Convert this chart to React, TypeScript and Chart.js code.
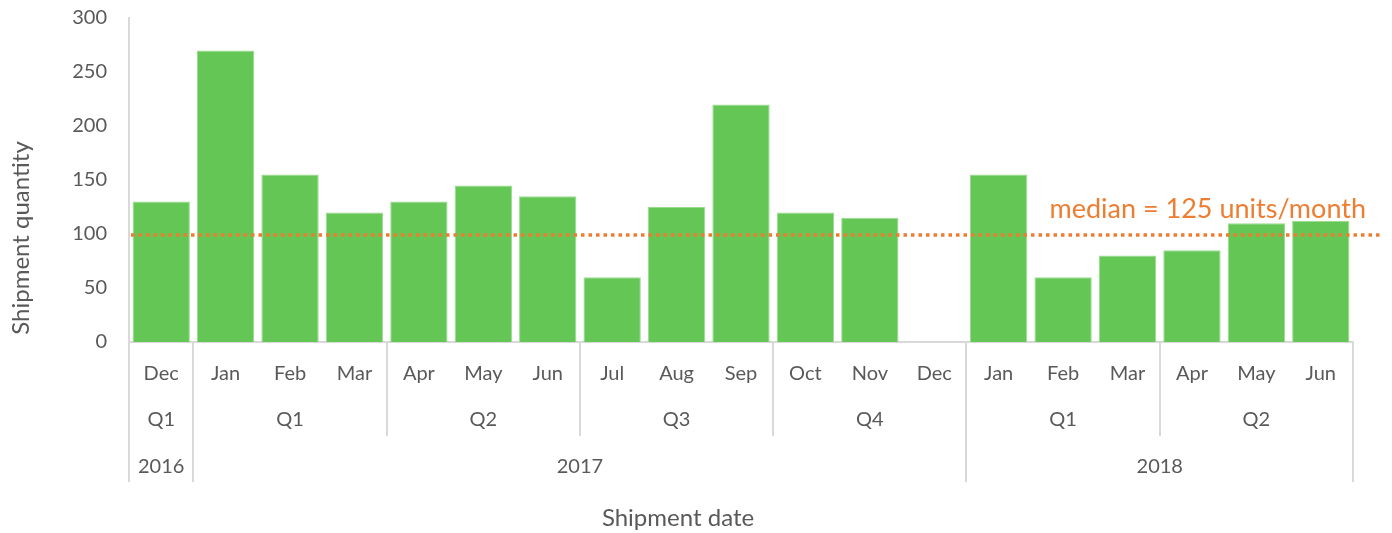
import React, { useEffect, useRef } from "react";
import { Chart, registerables } from "chart.js";

Chart.register(...registerables);

const months = ["Dec", "Jan", "Feb", "Mar", "Apr", "May", "Jun", "Jul", "Aug", "Sep", "Oct", "Nov", "Dec", "Jan", "Feb", "Mar", "Apr", "May", "Jun"];
const shipments = [130, 270, 155, 120, 130, 145, 135, 60, 125, 220, 120, 115, 0, 155, 60, 80, 85, 110, 112];
const quarterLabels = ["Q1", "Q1", "Q2", "Q3", "Q4", "Q1", "Q2"];
const quarterSpans = [1, 3, 3, 3, 3, 3, 3];
const yearLabels = ["2016", "2017", "2018"];
const yearSpans = [1, 12, 6];
const medianLineValue = 99;
const medianLabel = "median = 125 units/month";
const yTicks = [0, 50, 100, 150, 200, 250, 300];

const FONT = "Lato, 'Open Sans', sans-serif";
const TEXT = "#595959";
const AXIS = "#D9D9D9";
const ORANGE = "#ED7D31";

const overlay = {
  id: "overlay",
  afterDraw(chart: any) {
    const ctx = chart.ctx;
    const xs = chart.scales.x;
    const ys = chart.scales.y;
    const area = chart.chartArea;
    const n = months.length;
    const step = (area.right - area.left) / n;
    const edge = (i: number) => xs.getPixelForValue(0) - step / 2 + i * step;
    const bottom = area.bottom;
    const monthY = bottom + 32;
    const qY = bottom + 78;
    const qEnd = bottom + 94;
    const yrY = bottom + 125;
    const yrEnd = bottom + 140;

    ctx.save();
    // median dotted line
    const my = ys.getPixelForValue(medianLineValue);
    ctx.strokeStyle = ORANGE;
    ctx.lineWidth = 3.5;
    ctx.setLineDash([3.5, 4]);
    ctx.beginPath();
    ctx.moveTo(area.left + 2, my);
    ctx.lineTo(area.right + 28, my);
    ctx.stroke();
    ctx.setLineDash([]);

    ctx.fillStyle = ORANGE;
    ctx.font = `27px ${FONT}`;
    ctx.textAlign = "right";
    ctx.textBaseline = "middle";
    ctx.fillText(medianLabel, area.right + 13, my - 26);

    // separators
    ctx.strokeStyle = AXIS;
    ctx.lineWidth = 2;
    const yearEdges = new Set<number>();
    let acc = 0;
    yearEdges.add(0);
    yearSpans.forEach((s) => { acc += s; yearEdges.add(acc); });
    const qEdges: number[] = [0];
    acc = 0;
    quarterSpans.forEach((s) => { acc += s; qEdges.push(acc); });
    qEdges.forEach((e) => {
      const x = Math.round(edge(e));
      ctx.beginPath();
      ctx.moveTo(x, bottom);
      ctx.lineTo(x, yearEdges.has(e) ? yrEnd : qEnd);
      ctx.stroke();
    });

    // labels
    ctx.fillStyle = TEXT;
    ctx.font = `20px ${FONT}`;
    ctx.textAlign = "center";
    months.forEach((m, i) => {
      ctx.fillText(m, xs.getPixelForValue(i), monthY);
    });
    acc = 0;
    quarterLabels.forEach((q, i) => {
      const c = (edge(acc) + edge(acc + quarterSpans[i])) / 2;
      ctx.fillText(q, c, qY);
      acc += quarterSpans[i];
    });
    acc = 0;
    yearLabels.forEach((y, i) => {
      const c = (edge(acc) + edge(acc + yearSpans[i])) / 2;
      ctx.fillText(y, c, yrY);
      acc += yearSpans[i];
    });

    // axis titles
    ctx.font = `24px ${FONT}`;
    ctx.fillText("Shipment date", (area.left + area.right) / 2 - 63, bottom + 176);
    ctx.translate(21, bottom - 104);
    ctx.rotate(-Math.PI / 2);
    ctx.fillText("Shipment quantity", 0, 0);
    ctx.restore();
  },
};

export default function App() {
  const ref = useRef<HTMLCanvasElement | null>(null);
  useEffect(() => {
    if (!ref.current) return;
    const chart = new Chart(ref.current, {
      type: "bar",
      data: {
        labels: months.map((m, i) => `${m}-${i}`),
        datasets: [
          {
            data: shipments,
            backgroundColor: "#63C655",
            borderColor: "#9ADB90",
            borderWidth: 1,
            categoryPercentage: 1,
            barPercentage: 0.89,
          },
        ],
      },
      options: {
        animation: false,
        responsive: false,
        maintainAspectRatio: false,
        layout: { padding: { top: 18, right: 39, left: 0, bottom: 0 } },
        plugins: { legend: { display: false }, tooltip: { enabled: false } },
        scales: {
          x: {
            grid: { display: false, drawTicks: false },
            border: { display: true, color: AXIS, width: 2 },
            ticks: { display: false },
            afterFit: (s: any) => { s.height = 191; s.paddingLeft = 0; s.paddingRight = 0; },
          },
          y: {
            min: 0,
            max: 300,
            afterBuildTicks: (s: any) => { s.ticks = yTicks.map((v) => ({ value: v })); },
            grid: { display: false, drawTicks: false },
            border: { display: true, color: AXIS, width: 2 },
            ticks: { color: TEXT, font: { family: FONT, size: 20 }, padding: 22 },
            afterFit: (s: any) => { s.width = 129; s.paddingTop = 0; s.paddingBottom = 0; },
          },
        },
      },
      plugins: [overlay],
    });
    return () => chart.destroy();
  }, []);
  return (
    <div style={{ position: "fixed", left: 0, top: 0, width: 1392, height: 533, background: "#fff" }}>
      <canvas ref={ref} width={1392} height={533} style={{ width: 1392, height: 533 }} />
    </div>
  );
}
